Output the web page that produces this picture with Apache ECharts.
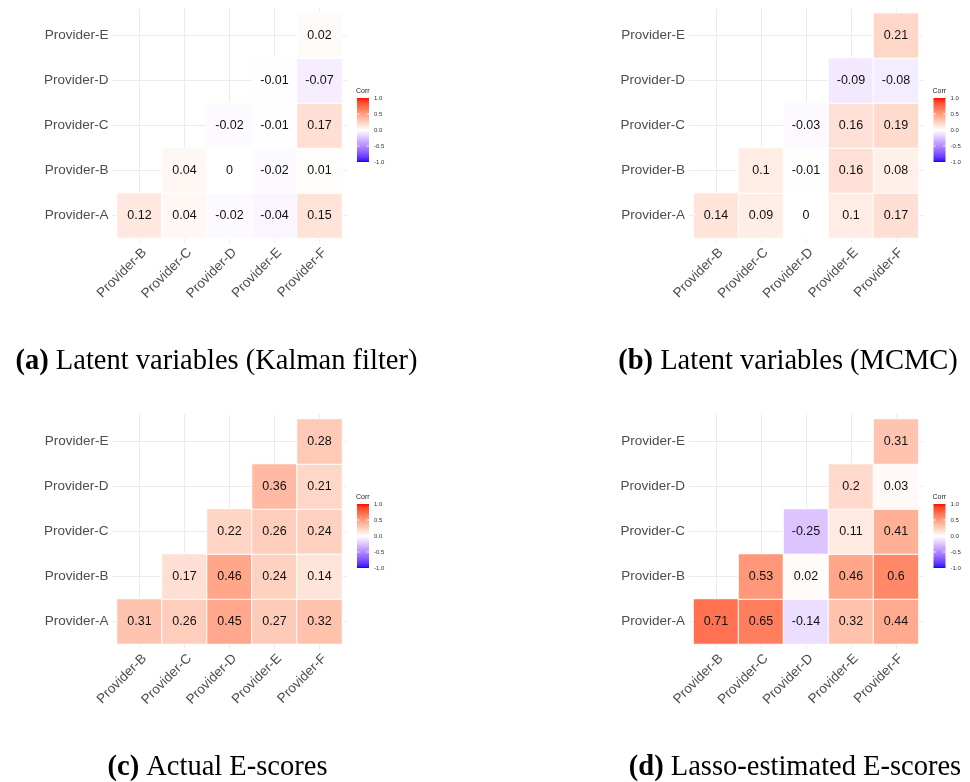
<!DOCTYPE html>
<html>
<head>
<meta charset="utf-8">
<script src="https://cdn.jsdelivr.net/npm/echarts@6/dist/echarts.min.js"></script>
<style>
html,body{margin:0;padding:0;background:#fff;}
#chart{width:970px;height:782px;}
</style>
</head>
<body>
<div id="chart"></div>
<script>
// ---- data ----
const xCats = ['Provider-B', 'Provider-C', 'Provider-D', 'Provider-E', 'Provider-F'];
const yCats = ['Provider-A', 'Provider-B', 'Provider-C', 'Provider-D', 'Provider-E'];
// each row r (Provider-A..E) holds correlations with columns from index r to 4 of xCats
const kalman = [[0.12, 0.04, -0.02, -0.04, 0.15], [0.04, 0, -0.02, 0.01], [-0.02, -0.01, 0.17], [-0.01, -0.07], [0.02]];
const mcmc   = [[0.14, 0.09, 0, 0.1, 0.17], [0.1, -0.01, 0.16, 0.08], [-0.03, 0.16, 0.19], [-0.09, -0.08], [0.21]];
const actual = [[0.31, 0.26, 0.45, 0.27, 0.32], [0.17, 0.46, 0.24, 0.14], [0.22, 0.26, 0.24], [0.36, 0.21], [0.28]];
const lasso  = [[0.71, 0.65, -0.14, 0.32, 0.44], [0.53, 0.02, 0.46, 0.6], [-0.25, 0.11, 0.41], [0.2, 0.03], [0.31]];
const captionTags = ['(a)', '(b)', '(c)', '(d)'];
const captionTexts = ['Latent variables (Kalman filter)', 'Latent variables (MCMC)', 'Actual E-scores', 'Lasso-estimated E-scores'];
const legendTitle = 'Corr';
const legendTicks = [1.0, 0.5, 0.0, -0.5, -1.0];
const legendTickLabels = ['1.0', '0.5', '0.0', '-0.5', '-1.0'];

const panelsData = [kalman, mcmc, actual, lasso];

// ---- colour scale: blue-white-red interpolated in CIE Lab (like ggplot2 gradient2) ----
function toLin(c){c/=255;return c<=0.04045?c/12.92:Math.pow((c+0.055)/1.055,2.4);}
function toS(c){c=c<=0.0031308?12.92*c:1.055*Math.pow(c,1/2.4)-0.055;return Math.round(Math.max(0,Math.min(1,c))*255);}
function rgb2lab(r,g,b){
  const R=toLin(r),G=toLin(g),B=toLin(b);
  const X=(0.4124*R+0.3576*G+0.1805*B)/0.95047,Y=(0.2126*R+0.7152*G+0.0722*B),Z=(0.0193*R+0.1192*G+0.9505*B)/1.08883;
  const f=t=>t>0.008856?Math.cbrt(t):7.787*t+16/116;
  return [116*f(Y)-16,500*(f(X)-f(Y)),200*(f(Y)-f(Z))];
}
function lab2rgb(L,a,b){
  const fy=(L+16)/116,fx=fy+a/500,fz=fy-b/200;
  const fi=t=>{const t3=t*t*t;return t3>0.008856?t3:(t-16/116)/7.787;};
  const X=fi(fx)*0.95047,Y=fi(fy),Z=fi(fz)*1.08883;
  const R=3.2406*X-1.5372*Y-0.4986*Z,G=-0.9689*X+1.8758*Y+0.0415*Z,B=0.0557*X-0.2040*Y+1.0570*Z;
  return 'rgb('+toS(R)+','+toS(G)+','+toS(B)+')';
}
const labLow=rgb2lab(0,0,255),labMid=rgb2lab(255,255,255),labHigh=rgb2lab(255,0,0);
function colorAt(v){
  const A=v<0?labLow:labHigh,t=Math.abs(v);
  return lab2rgb(labMid[0]+(A[0]-labMid[0])*t,labMid[1]+(A[1]-labMid[1])*t,labMid[2]+(A[2]-labMid[2])*t);
}
const NSTOP=81;
const scaleColors=[];
for(let i=0;i<NSTOP;i++){scaleColors.push(colorAt(-1+2*i/(NSTOP-1)));}

// ---- layout ----
const offsets = [[0,0],[576.5,0],[0,406],[576.5,406]];
const captionPos = [[216.5,362],[788,362],[217.5,768],[795,768]];
const FONT = 'Liberation Sans, Arial, sans-serif';
const SERIF = 'Liberation Serif, Times New Roman, serif';
const grids=[], xAxes=[], yAxes=[], series=[], graphics=[];

panelsData.forEach((mat,p)=>{
  const [ox,oy]=offsets[p];
  const g=3*p;
  grids.push({left:ox+117,top:oy+13,width:225,height:225});
  grids.push({left:ox+139.5,top:oy+8.5,width:180,height:234});
  grids.push({left:ox+112.5,top:oy+35.5,width:234,height:180});
  // cell axes
  xAxes.push({type:'category',gridIndex:g,data:xCats,boundaryGap:true,show:false});
  yAxes.push({type:'category',gridIndex:g,data:yCats,boundaryGap:true,show:false});
  // vertical grid lines + x labels
  xAxes.push({type:'category',gridIndex:g+1,data:xCats,boundaryGap:false,
    axisLine:{show:false},axisTick:{show:false},
    axisLabel:{rotate:45,margin:3,fontSize:13.5,color:'#4D4D4D',fontFamily:FONT,align:'right',verticalAlign:'top',interval:0},
    splitLine:{show:true,lineStyle:{color:'#EBEBEB',width:1}}});
  yAxes.push({type:'category',gridIndex:g+1,data:yCats,show:false});
  // horizontal grid lines + y labels
  xAxes.push({type:'category',gridIndex:g+2,data:xCats,show:false});
  yAxes.push({type:'category',gridIndex:g+2,data:yCats,boundaryGap:false,
    axisLine:{show:false},axisTick:{show:false},
    axisLabel:{margin:4,fontSize:13.5,color:'#4D4D4D',fontFamily:FONT,interval:0},
    splitLine:{show:true,lineStyle:{color:'#EBEBEB',width:1}}});
  const data=[];
  mat.forEach((row,r)=>{row.forEach((v,k)=>{data.push([r+k,r,v]);});});
  series.push({type:'heatmap',xAxisIndex:g,yAxisIndex:g,data:data,
    itemStyle:{borderColor:'#ffffff',borderWidth:1},
    label:{show:true,fontSize:12.5,color:'#111',fontFamily:FONT,formatter:(prm)=>String(prm.value[2])},
    emphasis:{disabled:true}});
  // legend
  const lx=ox+357,ly=oy+98,lw=12,lh=64;
  graphics.push({type:'text',x:lx-1,y:ly-7,style:{text:legendTitle,fontSize:7,fontFamily:FONT,fill:'#222',align:'left',verticalAlign:'middle'}});
  const stops=[];
  for(let i=0;i<NSTOP;i++){stops.push({offset:i/(NSTOP-1),color:scaleColors[NSTOP-1-i]});}
  graphics.push({type:'rect',shape:{x:lx,y:ly,width:lw,height:lh},style:{fill:{type:'linear',x:0,y:0,x2:0,y2:1,colorStops:stops}}});
  legendTicks.forEach((v,i)=>{
    const ty=ly+(1-v)/2*lh;
    graphics.push({type:'text',x:lx+lw+5,y:ty,style:{text:legendTickLabels[i],fontSize:6,fontFamily:FONT,fill:'#333',align:'left',verticalAlign:'middle'}});
    if(Math.abs(v)<1){
      graphics.push({type:'line',shape:{x1:lx,y1:ty,x2:lx+2.4,y2:ty},style:{stroke:'#fff',lineWidth:0.8}});
      graphics.push({type:'line',shape:{x1:lx+lw-2.4,y1:ty,x2:lx+lw,y2:ty},style:{stroke:'#fff',lineWidth:0.8}});
    }
  });
  // caption
  const [cx,cy]=captionPos[p];
  graphics.push({type:'text',x:cx,y:cy,style:{
    text:'{b|'+captionTags[p]+'} '+captionTexts[p],
    fontSize:28.5,fontFamily:SERIF,fill:'#000',align:'center',verticalAlign:'middle',
    rich:{b:{fontWeight:'bold',fontSize:28.5,fontFamily:SERIF}}}});
});

const chart=echarts.init(document.getElementById('chart'),null,{renderer:'canvas'});
chart.setOption({
  backgroundColor:'#ffffff',
  animation:false,
  textStyle:{fontFamily:FONT},
  grid:grids,xAxis:xAxes,yAxis:yAxes,
  visualMap:{type:'continuous',min:-1,max:1,show:false,seriesIndex:[0,1,2,3],dimension:2,inRange:{color:scaleColors}},
  series:series,
  graphic:graphics
});
</script>
</body>
</html>
